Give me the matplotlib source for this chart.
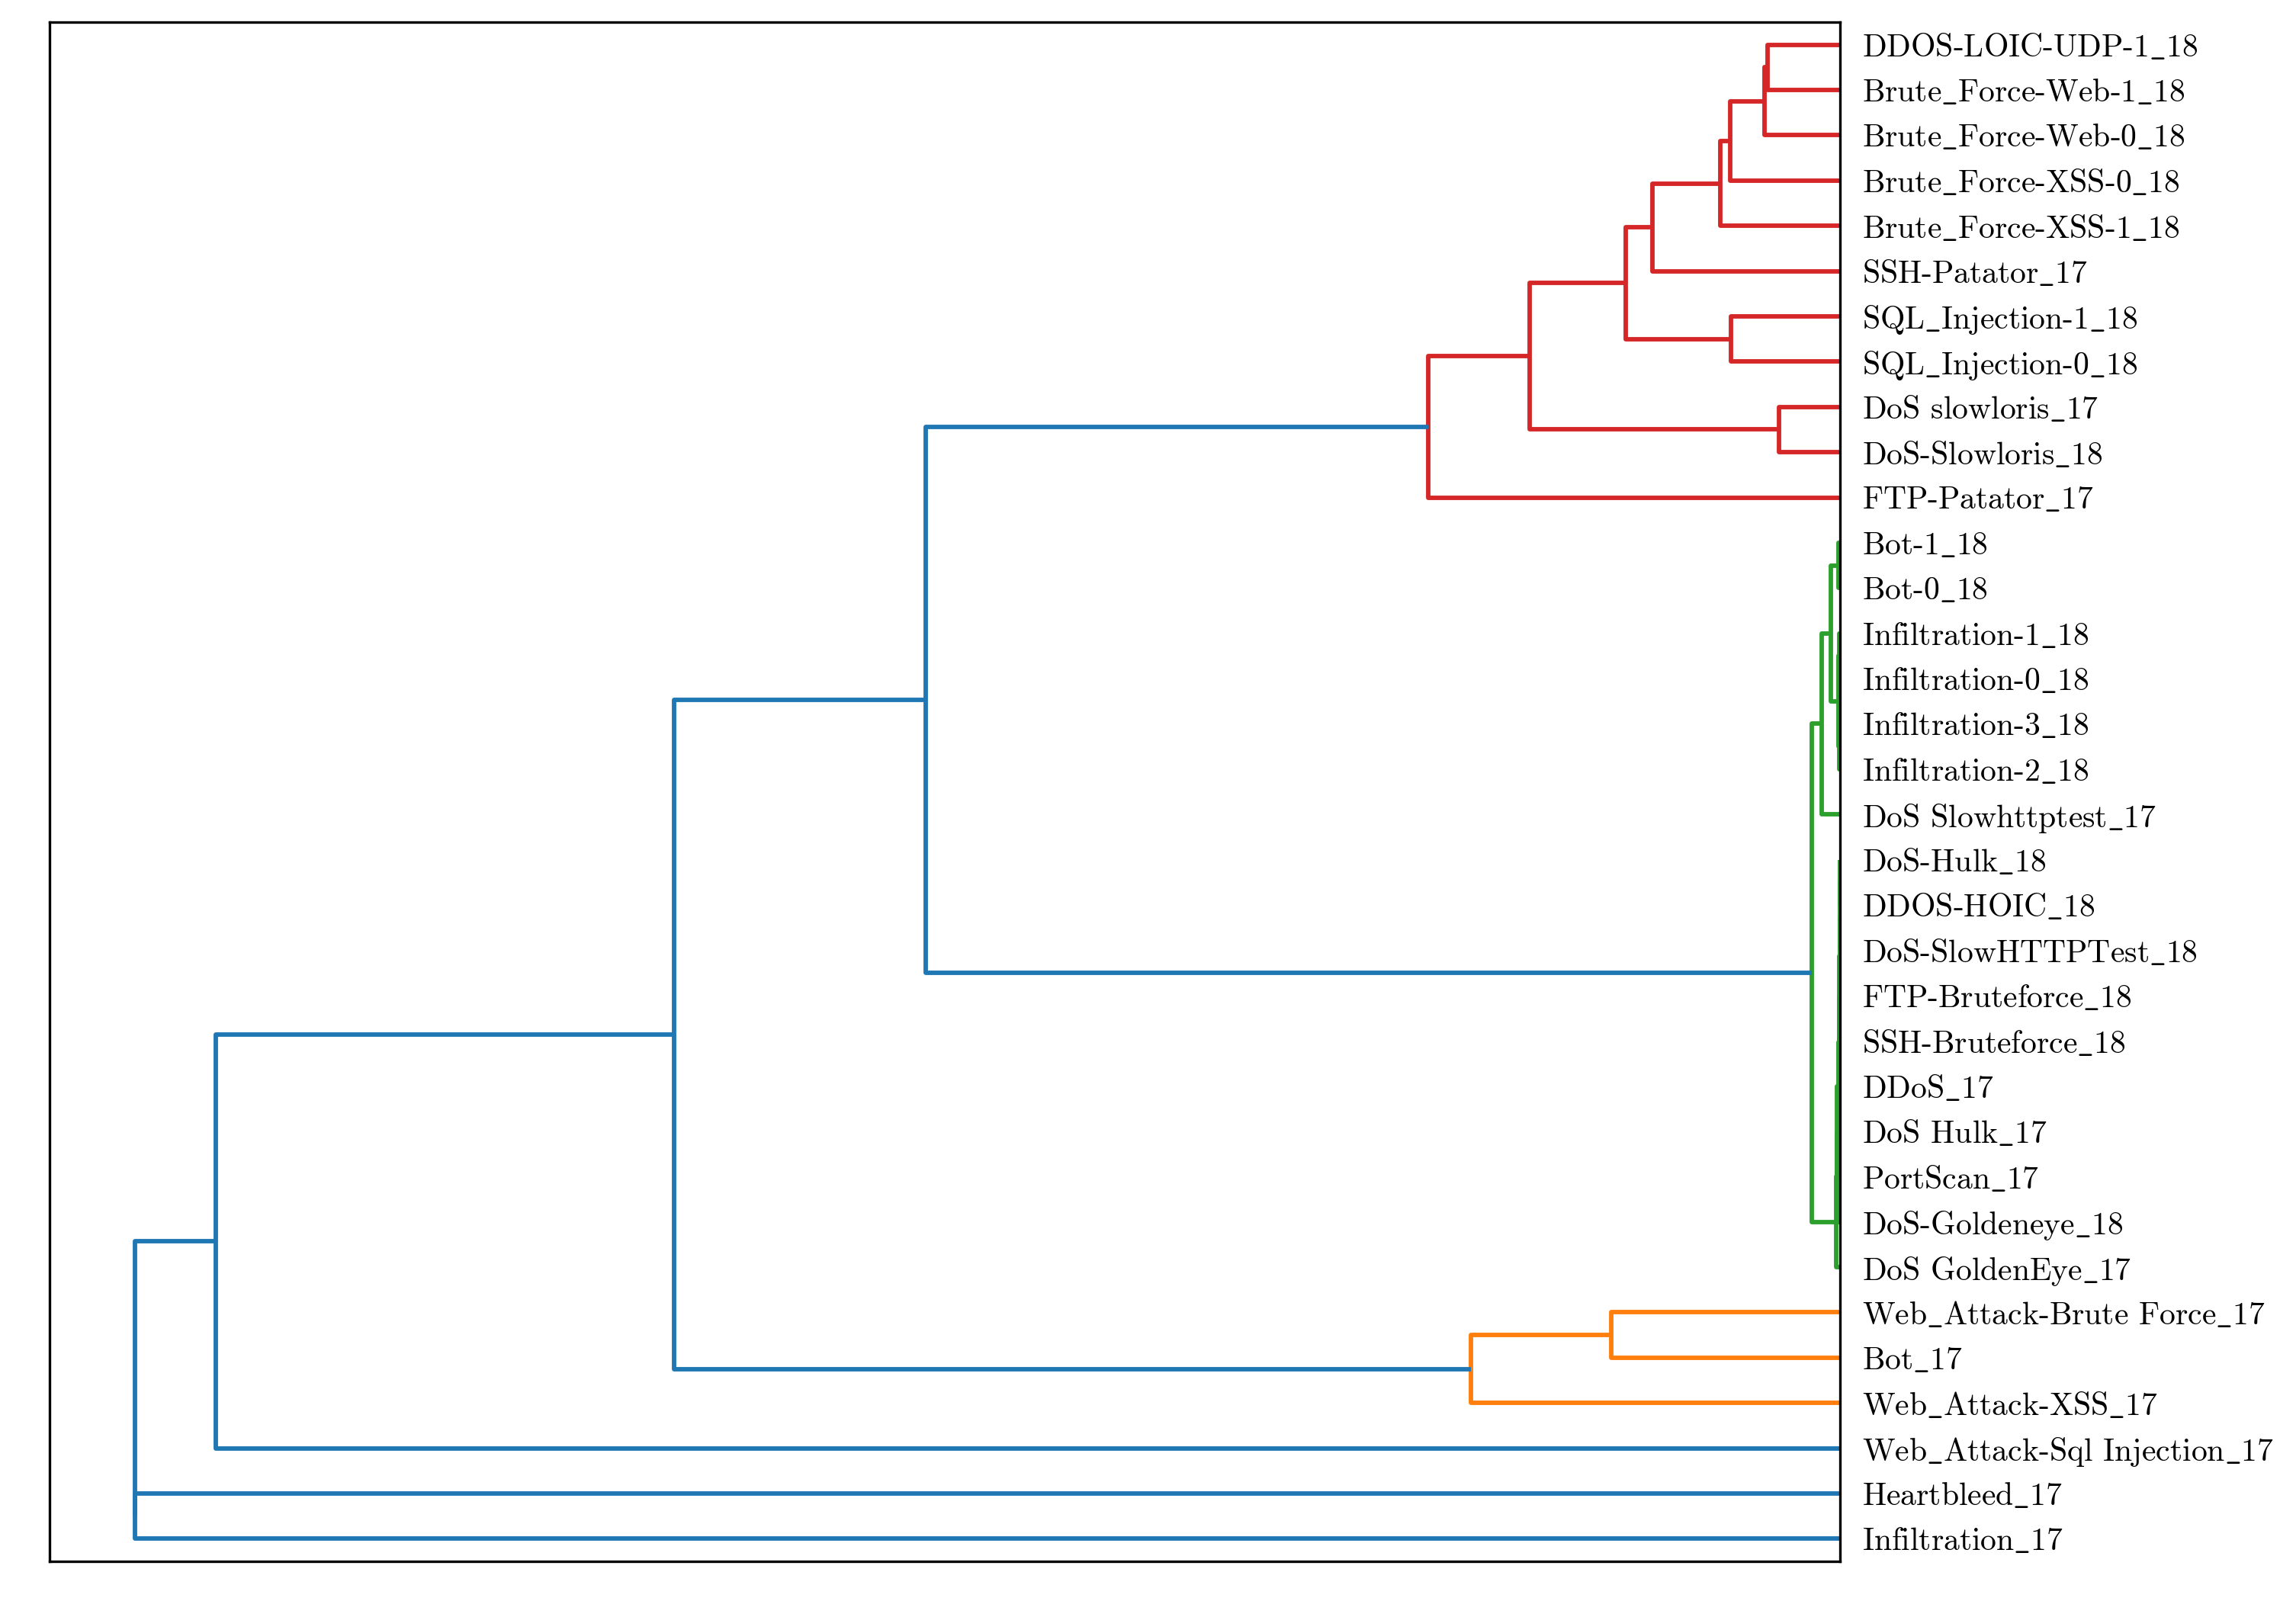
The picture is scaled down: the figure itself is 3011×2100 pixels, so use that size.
import numpy as np
import matplotlib
matplotlib.use('Agg')
import matplotlib.pyplot as plt

plt.rcParams['font.family'] = ['cmr10', 'DejaVu Serif']
plt.rcParams['mathtext.fontset'] = 'cm'
plt.rcParams['axes.unicode_minus'] = False

# leaf labels, bottom to top (dendrogram order)
labels = [
    'Infiltration_17', 'Heartbleed_17', 'Web_Attack-Sql Injection_17',
    'Web_Attack-XSS_17', 'Bot_17', 'Web_Attack-Brute Force_17',
    'DoS GoldenEye_17', 'DoS-Goldeneye_18', 'PortScan_17', 'DoS Hulk_17',
    'DDoS_17', 'SSH-Bruteforce_18', 'FTP-Bruteforce_18', 'DoS-SlowHTTPTest_18',
    'DDOS-HOIC_18', 'DoS-Hulk_18', 'DoS Slowhttptest_17', 'Infiltration-2_18',
    'Infiltration-3_18', 'Infiltration-0_18', 'Infiltration-1_18', 'Bot-0_18',
    'Bot-1_18', 'FTP-Patator_17', 'DoS-Slowloris_18', 'DoS slowloris_17',
    'SQL_Injection-0_18', 'SQL_Injection-1_18', 'SSH-Patator_17',
    'Brute_Force-XSS-1_18', 'Brute_Force-XSS-0_18', 'Brute_Force-Web-0_18',
    'Brute_Force-Web-1_18', 'DDOS-LOIC-UDP-1_18',
]

# linkage: child a, child b, merge distance (new node ids start at len(labels))
link_a = [20, 18, 15, 36, 37, 38, 39, 40, 22, 34, 41, 44, 45, 42, 47, 48,
          33, 50, 51, 52, 53, 27, 54, 25, 56, 58, 5, 60, 59, 62, 63, 1, 64]
link_b = [19, 17, 14, 13, 12, 11, 10, 9, 21, 35, 8, 7, 6, 43, 16, 46,
          32, 31, 30, 29, 28, 26, 55, 24, 57, 23, 4, 3, 49, 61, 2, 0, 65]
link_d = [0.0005, 0.0005, 0.0002, 0.0003, 0.0004, 0.0006, 0.0008, 0.0017,
          0.0023, 0.0020, 0.0036, 0.0044, 0.0053, 0.0117, 0.0240, 0.0373,
          0.095, 0.099, 0.144, 0.157, 0.246, 0.143, 0.281, 0.080, 0.407,
          0.540, 0.300, 0.484, 1.199, 1.529, 2.130, 2.236, 2.236]

color_threshold = 1.0
palette = ['#ff7f0e', '#2ca02c', '#d62728']
above_color = '#1f77b4'

n = len(labels)
ypos = {i: 5 + 10 * i for i in range(n)}
height = {i: 0.0 for i in range(n)}
members = {i: [i] for i in range(n)}
for k, (a, b, d) in enumerate(zip(link_a, link_b, link_d)):
    node = n + k
    ypos[node] = (ypos[a] + ypos[b]) / 2
    height[node] = d
    members[node] = members[a] + members[b]

# colour clusters below the threshold, in leaf order
parent = {}
for k, (a, b) in enumerate(zip(link_a, link_b)):
    parent[a] = n + k
    parent[b] = n + k
cluster_roots = []
for k, d in enumerate(link_d):
    node = n + k
    if d < color_threshold and (node not in parent or height[parent[node]] >= color_threshold):
        cluster_roots.append(node)
cluster_roots.sort(key=lambda c: min(members[c]))
node_color = {}
for ci, c in enumerate(cluster_roots):
    for k in range(len(link_d)):
        node = n + k
        if set(members[node]) <= set(members[c]):
            node_color[node] = palette[ci % len(palette)]

fig = plt.figure(figsize=(10.04, 7.0), dpi=300)
ax = fig.add_axes([65 / 3012, 1 - 2048 / 2100, (2413 - 65) / 3012, (2048 - 29) / 2100])

for k, (a, b, d) in enumerate(zip(link_a, link_b, link_d)):
    node = n + k
    c = node_color.get(node, above_color)
    ax.plot([height[a], d, d, height[b]], [ypos[a], ypos[a], ypos[b], ypos[b]],
            color=c, lw=1.4, solid_capstyle='butt')

ax.set_xlim(max(link_d) * 1.05, 0)
ax.set_ylim(0, 10 * n)
ax.set_xticks([])
ax.yaxis.tick_right()
ax.set_yticks([5 + 10 * i for i in range(n)])
# underscores as in LaTeX text mode
ax.set_yticklabels([s.replace('_', r'$\_$') for s in labels], fontsize=10)
ax.tick_params(axis='y', length=0, pad=7)
for s in ax.spines.values():
    s.set_linewidth(0.8)

fig.savefig('out.png', dpi=300)
